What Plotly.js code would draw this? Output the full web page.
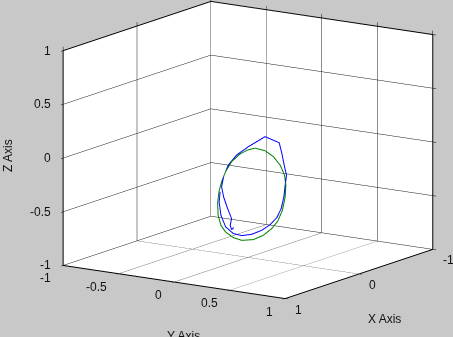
<!DOCTYPE html>
<html>
<head>
<meta charset="utf-8">
<script src="https://cdn.plot.ly/plotly-3.0.1.min.js"></script>
<style>html,body{margin:0;padding:0;background:#c8c8c8;}#plot{width:453px;height:337px;}</style>
</head>
<body>
<div id="plot"></div>
<script>
// Reference circle (green)
const greenX = [0,0,0,0,0,0,0,0,0,0,0,0,0,0,0,0,0,0,0,0,0,0,0,0,0];
const greenY = [0.063,0.154,0.229,0.290,0.329,0.341,0.335,0.310,0.269,0.214,0.138,0.048,-0.057,-0.133,-0.202,-0.244,-0.269,-0.274,-0.262,-0.238,-0.202,-0.148,-0.072,-0.003,0.063];
const greenZ = [0.027,0.017,-0.027,-0.096,-0.183,-0.274,-0.385,-0.513,-0.619,-0.699,-0.773,-0.827,-0.850,-0.836,-0.795,-0.739,-0.649,-0.540,-0.430,-0.333,-0.234,-0.132,-0.048,0.000,0.027];
// Estimated trajectory (blue)
const blueX = [0,0,0,0,0,0,0,0,0,0,0,0,0,0,0,0,0,0,0,0,0,0,0,0,0,0,0,0,0,0];
const blueY = [-0.129,-0.148,-0.160,-0.148,-0.184,-0.220,-0.238,-0.220,-0.178,-0.102,0.003,0.093,0.154,0.281,0.305,0.329,0.347,0.335,0.323,0.299,0.260,0.199,0.124,0.033,-0.057,-0.133,-0.202,-0.244,-0.260,-0.251];
const blueZ = [-0.742,-0.764,-0.726,-0.661,-0.573,-0.470,-0.380,-0.283,-0.168,-0.062,0.031,0.101,0.148,0.111,0.016,-0.105,-0.180,-0.275,-0.387,-0.499,-0.589,-0.664,-0.729,-0.780,-0.806,-0.798,-0.746,-0.645,-0.523,-0.428];
// Ticks
const xTicks = [-1,0,1];
const xTickText = ['-1','0','1'];
const yTicks = [-1,-0.5,0,0.5,1];
const yTickText = ['-1','-0.5','0','0.5','1'];
const zTicks = [-1,-0.5,0,0.5,1];
const zTickText = ['-1','-0.5','0','0.5','1'];
const xTitle = 'X Axis', yTitle = 'Y Axis', zTitle = 'Z Axis';

const font = {family:'Liberation Sans, Arial, sans-serif', size:12, color:'#111'};
function ax(vals){
  return {
    range:[-1,1], autorange:false,
    tickmode:'array', tickvals:vals, showticklabels:false,
    showgrid:true, gridcolor:'rgb(25,25,25)', gridwidth:1,
    zeroline:false,
    showline:true, linecolor:'#000', linewidth:2, mirror:'all',
    ticks:'outside', ticklen:4, tickcolor:'#000',
    showbackground:true, backgroundcolor:'#ffffff',
    showspikes:false,
    title:{text:''}
  };
}
// Tick labels as upright scene annotations at the axis edges
const sceneAnn = [];
zTicks.forEach((v,i)=>sceneAnn.push({x:1, y:-1, z:v, text:zTickText[i], showarrow:false, font:font, xanchor:'right', yanchor:'middle', xshift:-10}));
yTicks.forEach((v,i)=>sceneAnn.push({x:1, y:v, z:-1, text:yTickText[i], showarrow:false, font:font, xanchor:'right', yanchor:'middle', xshift:-10, yshift:-13}));
xTicks.forEach((v,i)=>sceneAnn.push({x:v, y:1, z:-1, text:xTickText[i], showarrow:false, font:font, xanchor:'left', yanchor:'middle', xshift:8, yshift:-11}));

const s = 1.77;
const data = [
  {type:'scatter3d', mode:'lines', x:greenX, y:greenY, z:greenZ, line:{color:'#008000', width:2}, hoverinfo:'skip'},
  {type:'scatter3d', mode:'lines', x:blueX, y:blueY, z:blueZ, line:{color:'#0000ff', width:2}, hoverinfo:'skip'}
];
const layout = {
  width:453, height:337,
  paper_bgcolor:'#c8c8c8',
  margin:{l:0,r:0,t:0,b:0},
  showlegend:false,
  hovermode:false,
  scene:{
    domain:{x:[0.095,1.0], y:[0.11,1.0]},
    xaxis:ax(xTicks),
    yaxis:ax(yTicks),
    zaxis:ax(zTicks),
    aspectmode:'manual',
    aspectratio:{x:1.0*s, y:1.006*s, z:0.83*s},
    camera:{
      projection:{type:'orthographic'},
      eye:{x:0.810*2, y:0.542*2, z:0.223*2},
      up:{x:0,y:0,z:1},
      center:{x:0,y:0,z:0}
    },
    annotations:sceneAnn
  },
  annotations:[
    {text:zTitle, xref:'paper', yref:'paper', x:8/453, y:1-156/337, showarrow:false, textangle:-90, font:font, xanchor:'center', yanchor:'middle'},
    {text:yTitle, xref:'paper', yref:'paper', x:183/453, y:1-327/337, showarrow:false, font:font, xanchor:'center', yanchor:'top'},
    {text:xTitle, xref:'paper', yref:'paper', x:384/453, y:1-310/337, showarrow:false, font:font, xanchor:'center', yanchor:'top'}
  ]
};
Plotly.newPlot('plot', data, layout, {displayModeBar:false});
</script>
</body>
</html>
